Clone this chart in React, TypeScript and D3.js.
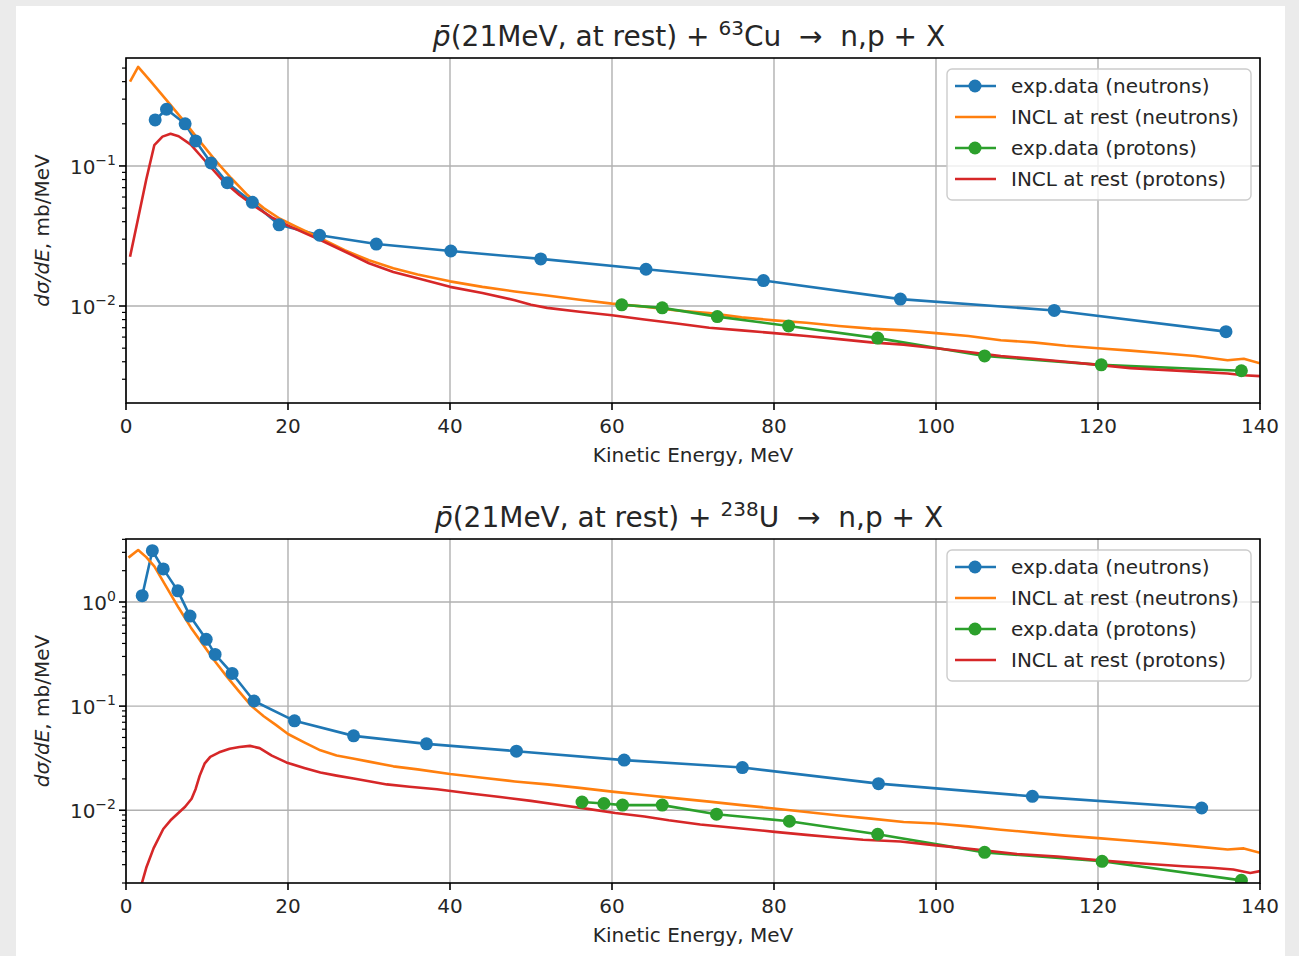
import React from 'react';
import * as d3 from 'd3';

// ---------- data: 63Cu ----------
const cuNeutronExpE = [3.6, 5.0, 7.3, 8.6, 10.5, 12.5, 15.6, 18.9, 23.9, 30.9, 40.1, 51.2, 64.2, 78.7, 95.6, 114.6, 135.8];
const cuNeutronExpV = [0.213, 0.254, 0.2, 0.151, 0.105, 0.076, 0.055, 0.038, 0.032, 0.0277, 0.0247, 0.0217, 0.0183, 0.0152, 0.0112, 0.0093, 0.00656];

const cuNeutronInclE = [0.5, 1.5, 3, 5, 7, 9, 11, 13, 15, 17, 19, 21, 24, 27, 30, 33, 36, 40, 44, 48, 52, 56, 60, 64, 68, 72, 76, 80, 84, 88, 92, 96, 100, 104, 108, 112, 116, 120, 124, 128, 132, 136, 138, 140];
const cuNeutronInclV = [0.4, 0.51, 0.405, 0.295, 0.214, 0.153, 0.11, 0.0817, 0.062, 0.05, 0.042, 0.0369, 0.0305, 0.025, 0.0212, 0.0186, 0.0168, 0.015, 0.0137, 0.0127, 0.0119, 0.0111, 0.0104, 0.0099, 0.0093, 0.0089, 0.0083, 0.0079, 0.0076, 0.0072, 0.0069, 0.0067, 0.0064, 0.0061, 0.0057, 0.0055, 0.0052, 0.005, 0.0048, 0.0046, 0.0044, 0.0041, 0.0042, 0.0039];

const cuProtonExpE = [61.2, 66.2, 73.0, 81.8, 92.8, 106.0, 120.4, 137.7];
const cuProtonExpV = [0.0102, 0.0097, 0.0084, 0.0072, 0.0059, 0.0044, 0.0038, 0.00345];

const cuProtonInclE = [0.5, 1.5, 2.5, 3.5, 4.5, 5.5, 6.5, 8, 10, 12, 14, 16, 18, 20, 22, 24, 27, 30, 33, 36, 40, 44, 48, 50, 52, 56, 60, 64, 68, 72, 76, 80, 84, 88, 92, 96, 100, 104, 108, 112, 116, 120, 124, 128, 132, 136, 138, 140];
const cuProtonInclV = [0.0225, 0.0424, 0.08, 0.141, 0.162, 0.17, 0.163, 0.142, 0.105, 0.078, 0.062, 0.051, 0.043, 0.0375, 0.0333, 0.0296, 0.0245, 0.0202, 0.0175, 0.0158, 0.0137, 0.0124, 0.011, 0.0102, 0.0097, 0.0091, 0.0086, 0.008, 0.0075, 0.007, 0.0067, 0.0064, 0.0061, 0.0058, 0.0055, 0.0053, 0.005, 0.0047, 0.0044, 0.0042, 0.004, 0.0038, 0.0036, 0.0035, 0.0034, 0.0033, 0.0032, 0.00316];

// ---------- data: 238U ----------
const uNeutronExpE = [2.0, 3.25, 4.6, 6.4, 7.9, 9.9, 11.0, 13.1, 15.8, 20.8, 28.1, 37.1, 48.2, 61.5, 76.1, 92.9, 111.9, 132.8];
const uNeutronExpV = [1.15, 3.11, 2.08, 1.28, 0.733, 0.438, 0.314, 0.206, 0.112, 0.0722, 0.0518, 0.0434, 0.0369, 0.0303, 0.0257, 0.018, 0.0136, 0.0105];

const uNeutronInclE = [0.3, 1.5, 2.5, 3.5, 5, 6.5, 8, 9.5, 11, 12.5, 14, 15.5, 17, 18.5, 20, 22, 24, 26, 28, 30, 33, 36, 40, 44, 48, 52, 56, 60, 64, 68, 72, 76, 80, 84, 88, 92, 96, 100, 104, 108, 112, 116, 120, 124, 128, 132, 136, 138, 140];
const uNeutronInclV = [2.67, 3.16, 2.7, 2.2, 1.39, 0.88, 0.57, 0.39, 0.268, 0.19, 0.137, 0.1, 0.08, 0.066, 0.054, 0.0449, 0.0376, 0.0336, 0.0314, 0.0293, 0.0264, 0.0247, 0.0223, 0.0205, 0.0189, 0.0177, 0.0164, 0.0151, 0.014, 0.013, 0.0121, 0.0112, 0.0104, 0.0096, 0.0089, 0.0083, 0.0077, 0.00745, 0.007, 0.0065, 0.0061, 0.0057, 0.0054, 0.0051, 0.0048, 0.0045, 0.0042, 0.0043, 0.0039];

const uProtonExpE = [56.3, 59.0, 61.3, 66.2, 72.9, 81.9, 92.8, 106.0, 120.5, 137.7];
const uProtonExpV = [0.012, 0.0116, 0.0112, 0.0112, 0.00916, 0.00784, 0.00588, 0.00394, 0.00323, 0.00212];

const uProtonInclE = [1.8, 2.5, 3.4, 4.6, 5.5, 6.4, 7.3, 8.1, 8.6, 9.1, 9.7, 10.4, 11.5, 12.8, 14, 15.3, 16.5, 18, 19.8, 22, 24, 26, 28.1, 30, 32.2, 35, 38.4, 42.5, 46.2, 50, 54, 57, 60.4, 64, 67, 70.9, 75, 80.1, 84, 87.3, 91, 95.6, 100, 105, 110, 115, 120.2, 125, 130.5, 134, 136.7, 138.8, 140];
const uProtonInclV = [0.0018, 0.0028, 0.0043, 0.0066, 0.008, 0.0093, 0.0108, 0.0129, 0.016, 0.0215, 0.028, 0.0326, 0.036, 0.039, 0.0405, 0.0415, 0.0395, 0.0335, 0.0288, 0.0255, 0.023, 0.0215, 0.0202, 0.019, 0.0177, 0.0168, 0.0159, 0.0145, 0.0134, 0.0123, 0.0111, 0.0103, 0.0094, 0.0087, 0.008, 0.0073, 0.0068, 0.0062, 0.0058, 0.0055, 0.0052, 0.005, 0.0046, 0.0042, 0.0038, 0.0036, 0.0033, 0.0031, 0.0029, 0.0028, 0.0027, 0.0025, 0.0026];

const xTicks = [0, 20, 40, 60, 80, 100, 120, 140];
const legendLabels = ['exp.data (neutrons)', 'INCL at rest (neutrons)', 'exp.data (protons)', 'INCL at rest (protons)'];

const BLUE = '#1f77b4', ORANGE = '#ff7f0e', GREEN = '#2ca02c', RED = '#d62728';
const FONT = 'DejaVu Sans';
const NB = '\u00A0';

type Series = { e: number[]; v: number[]; color: string; marker: boolean };

function zip(e: number[], v: number[]): [number, number][] {
  return e.map((x, i) => [x, v[i]] as [number, number]);
}

function Panel(props: {
  id: string; top: number; bottom: number; yDomain: [number, number]; majors: number[];
  isotope: string; element: string; series: Series[]; titleY: number;
}) {
  const { id, top, bottom, yDomain, majors, isotope, element, series, titleY } = props;
  const left = 126, right = 1260;
  const x = d3.scaleLinear().domain([0, 140]).range([left, right]);
  const y = d3.scaleLog().domain(yDomain).range([bottom, top]);
  const line = d3.line<[number, number]>().x(d => x(d[0])).y(d => y(d[1]));

  const minors: number[] = [];
  const lo = Math.floor(Math.log10(yDomain[0]));
  const hi = Math.ceil(Math.log10(yDomain[1]));
  for (let p = lo; p <= hi; p++) {
    for (let m = 2; m <= 9; m++) {
      const val = m * Math.pow(10, p);
      if (val >= yDomain[0] && val <= yDomain[1]) minors.push(val);
    }
  }
  const cy = (top + bottom) / 2;
  const lgX = 947, lgY = top + 11, lgW = 304, lgH = 131;

  return (
    <g>
      <defs>
        <clipPath id={id}>
          <rect x={left} y={top} width={right - left} height={bottom - top} />
        </clipPath>
      </defs>
      {xTicks.map(t => (
        <line key={'gx' + t} x1={x(t)} x2={x(t)} y1={top} y2={bottom} stroke="#b0b0b0" strokeWidth={1.4} />
      ))}
      {majors.map(p => (
        <line key={'gy' + p} x1={left} x2={right} y1={y(Math.pow(10, p))} y2={y(Math.pow(10, p))} stroke="#b0b0b0" strokeWidth={1.4} />
      ))}
      <g clipPath={`url(#${id})`}>
        {series.map((s, i) => (
          <path key={'s' + i} d={line(zip(s.e, s.v)) || ''} fill="none" stroke={s.color} strokeWidth={2.6} strokeLinejoin="round" />
        ))}
        {series.filter(s => s.marker).map((s, i) =>
          s.e.map((e, j) => <circle key={'m' + i + '-' + j} cx={x(e)} cy={y(s.v[j])} r={6.5} fill={s.color} />)
        )}
      </g>
      <rect x={left} y={top} width={right - left} height={bottom - top} fill="none" stroke="#000" strokeWidth={1.6} />
      {xTicks.map(t => (
        <g key={'xt' + t}>
          <line x1={x(t)} x2={x(t)} y1={bottom} y2={bottom + 7} stroke="#000" strokeWidth={1.6} />
          <text x={x(t)} y={bottom + 30} textAnchor="middle" fontSize={20} fontFamily={FONT} fill="#262626">{String(t)}</text>
        </g>
      ))}
      <text x={(left + right) / 2} y={bottom + 59} textAnchor="middle" fontSize={20} fontFamily={FONT} fill="#262626">Kinetic Energy, MeV</text>
      {majors.map(p => (
        <g key={'yt' + p}>
          <line x1={left - 7} x2={left} y1={y(Math.pow(10, p))} y2={y(Math.pow(10, p))} stroke="#000" strokeWidth={1.6} />
          <text x={left - 10} y={y(Math.pow(10, p)) + 8} textAnchor="end" fontSize={20} fontFamily={FONT} fill="#262626">
            {'10'}<tspan dy={-9} fontSize={14}>{p === 0 ? '0' : '\u2212' + Math.abs(p)}</tspan>
          </text>
        </g>
      ))}
      {minors.map((m, i) => (
        <line key={'mn' + i} x1={left - 4} x2={left} y1={y(m)} y2={y(m)} stroke="#000" strokeWidth={1.2} />
      ))}
      <text transform={`translate(49, ${cy}) rotate(-90)`} textAnchor="middle" fontSize={20} fontFamily={FONT} fill="#262626">
        <tspan fontStyle="italic">{'d\u03C3/dE'}</tspan>{', mb/MeV'}
      </text>
      <text x={(left + right) / 2 - 4} y={titleY} textAnchor="middle" fontSize={28} fontFamily={FONT} fill="#262626">
        <tspan fontStyle="italic">{'p\u0304'}</tspan>{'(21MeV, at rest) +' + NB}<tspan dy={-11} fontSize={20}>{isotope}</tspan>
        <tspan dy={11}>{element + NB + NB + '\u2192' + NB + NB + 'n,p + X'}</tspan>
      </text>
      <rect x={lgX} y={lgY} width={lgW} height={lgH} rx={5} fill="#ffffff" fillOpacity={0.8} stroke="#cccccc" strokeWidth={1.4} />
      {legendLabels.map((lab, i) => {
        const ry = lgY + 17 + i * 31;
        const s = series[i];
        return (
          <g key={'lg' + i}>
            <line x1={lgX + 8} x2={lgX + 49} y1={ry} y2={ry} stroke={s.color} strokeWidth={2.6} />
            {s.marker && <circle cx={lgX + 28} cy={ry} r={6.5} fill={s.color} />}
            <text x={lgX + 64} y={ry + 7} fontSize={20} fontFamily={FONT} fill="#262626">{lab}</text>
          </g>
        );
      })}
    </g>
  );
}

export default function App() {
  const cuSeries: Series[] = [
    { e: cuNeutronExpE, v: cuNeutronExpV, color: BLUE, marker: true },
    { e: cuNeutronInclE, v: cuNeutronInclV, color: ORANGE, marker: false },
    { e: cuProtonExpE, v: cuProtonExpV, color: GREEN, marker: true },
    { e: cuProtonInclE, v: cuProtonInclV, color: RED, marker: false },
  ];
  const uSeries: Series[] = [
    { e: uNeutronExpE, v: uNeutronExpV, color: BLUE, marker: true },
    { e: uNeutronInclE, v: uNeutronInclV, color: ORANGE, marker: false },
    { e: uProtonExpE, v: uProtonExpV, color: GREEN, marker: true },
    { e: uProtonInclE, v: uProtonInclV, color: RED, marker: false },
  ];
  return (
    <svg width={1299} height={956} style={{ position: 'absolute', left: 0, top: 0 }}>
      <rect x={0} y={0} width={1299} height={956} fill="#ebebeb" />
      <rect x={16} y={6} width={1269} height={950} fill="#ffffff" />
      <Panel id="clipCu" top={58} bottom={403} yDomain={[0.00203, 0.59]} majors={[-2, -1]} isotope="63" element="Cu" series={cuSeries} titleY={46} />
      <Panel id="clipU" top={539} bottom={883} yDomain={[0.002, 4.03]} majors={[-2, -1, 0]} isotope="238" element="U" series={uSeries} titleY={527} />
    </svg>
  );
}
